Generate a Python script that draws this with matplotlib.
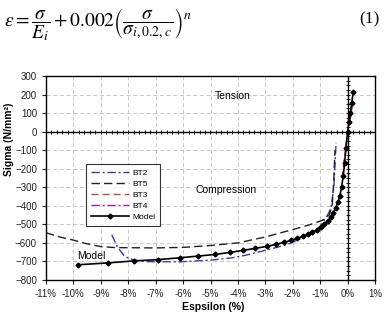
import numpy as np
import matplotlib.pyplot as plt

plt.rcParams['font.family'] = ['Liberation Sans', 'DejaVu Sans']
plt.rcParams['mathtext.fontset'] = 'stix'

# strain in %, stress in N/mm2
model_x = [-9.85, -8.75, -7.8, -6.9, -6.1, -5.45, -4.82, -4.28, -3.8, -3.36,
           -2.95, -2.61, -2.33, -2.07, -1.85, -1.64, -1.46, -1.29, -1.13, -0.98,
           -0.85, -0.73, -0.62, -0.52, -0.43, -0.35, -0.28, -0.22, -0.16, -0.11,
           -0.06, 0.0, 0.05, 0.1, 0.15, 0.21]
model_y = [-718, -708, -697, -690, -680, -671, -662, -651, -640, -629,
           -619, -608, -597, -587, -576, -565, -554, -543, -532, -516,
           -500, -482, -462, -440, -410, -380, -345, -300, -240, -170,
           -90, 0, 50, 100, 155, 215]

bt5_x = [-11, -10.5, -10, -9.5, -9, -8.5, -8, -7, -6, -5, -4, -3, -2, -1.4,
         -0.92, -0.67, -0.56, -0.5, -0.46]
bt5_y = [-545, -568, -585, -605, -620, -625, -626, -627, -624, -614, -600,
         -568, -528, -503, -478, -450, -400, -250, -100]

bt2_x = [-8.6, -8.4, -8.13, -7.8, -7.34, -6.1, -4.93, -4.2, -3.7, -2.5, -2.13,
         -1.3, -1.0, -0.73, -0.61, -0.5, -0.45, -0.42]
bt2_y = [-557, -620, -674, -692, -701, -702, -692, -680, -666, -621, -605,
         -548, -510, -450, -413, -300, -150, -60]

bt3_x = [-0.2, -0.1, 0.0, 0.08, 0.16]
bt3_y = [-250, -130, 0, 65, 125]

bt4_x = [-0.15, -0.08, 0.0, 0.1, 0.19]
bt4_y = [-190, -100, 0, 70, 140]

xticks = list(range(-11, 2))
xlabels = ['%d%%' % v for v in xticks]
yticks = list(range(-800, 301, 100))

fig = plt.figure(figsize=(3.85, 3.17), dpi=100)
ax = fig.add_axes([46 / 385, 1 - 280 / 317, 329 / 385, 204 / 317])

ax.grid(True, color='#c0c0c0', lw=0.6, ls=(0, (5, 3)))
ax.set_axisbelow(True)

ax.plot(bt2_x, bt2_y, color='#3c3c9c', lw=1.0, ls=(0, (6, 2, 1.5, 2)), label='BT2')
ax.plot(bt5_x, bt5_y, color='#222222', lw=1.0, ls=(0, (6, 3)), label='BT5')
ax.plot(bt3_x, bt3_y, color='#a05060', lw=1.0, ls=(0, (5, 3)), label='BT3')
ax.plot(bt4_x, bt4_y, color='#a020b0', lw=1.0, ls=(0, (6, 2, 1.5, 2)), label='BT4')
ax.plot(model_x, model_y, color='black', lw=1.2, marker='D', ms=2.5,
        label='Model')

# zero axes with small tick marks
ax.axhline(0, color='black', lw=1.0, zorder=1)
ax.axvline(0, color='black', lw=1.0, zorder=1)
mx = np.arange(-11, 1.01, 0.2)
ax.plot(mx, np.zeros_like(mx), ls='none', marker='|', ms=3, mew=0.6,
        color='black', zorder=1)
my = np.arange(-800, 301, 25)
ax.plot(np.zeros_like(my), my, ls='none', marker='_', ms=3, mew=0.6,
        color='black', zorder=1)

ax.set_xlim(-11, 1)
ax.set_ylim(-800, 300)
ax.set_xticks(xticks)
ax.set_xticklabels(xlabels)
ax.set_yticks(yticks)
ax.tick_params(labelsize=7, length=3, width=0.8, colors='#222222')
for s in ax.spines.values():
    s.set_linewidth(1.0)
    s.set_color('black')

ax.text(-4.2, 192, 'Tension', fontsize=7.5, ha='center', va='center')
ax.text(-4.45, -315, 'Compression', fontsize=7.5, ha='center', va='center')
ax.text(-9.85, -695, 'Model', fontsize=7.5, ha='left', va='bottom')

leg = ax.legend(loc='upper left', bbox_to_anchor=(0.122, 0.57), fontsize=6,
                frameon=True, fancybox=False, edgecolor='black',
                handlelength=4.6, borderpad=0.6, labelspacing=0.4,
                handletextpad=0.3, borderaxespad=0)
leg.get_frame().set_linewidth(0.8)

fig.text(213 / 385, 5 / 317, 'Espsilon (%)', fontsize=7.5, fontweight='bold',
         ha='center', va='bottom')
fig.text(9 / 385, 178 / 317, 'Sigma (N/mm²)', fontsize=7.5, fontweight='bold',
         rotation=90, ha='center', va='center')

fig.text(4 / 385, 1 - 25 / 317,
         r'$\varepsilon = \dfrac{\sigma}{E_i} + 0.002\left(\dfrac{\sigma}{\sigma_{i,0.2,c}}\right)^n$',
         fontsize=14, ha='left', va='center')
fig.text(380 / 385, 1 - 19 / 317, '(1)', fontsize=12.5, family='Liberation Serif',
         ha='right', va='center')

fig.savefig('out.png', dpi=100)
